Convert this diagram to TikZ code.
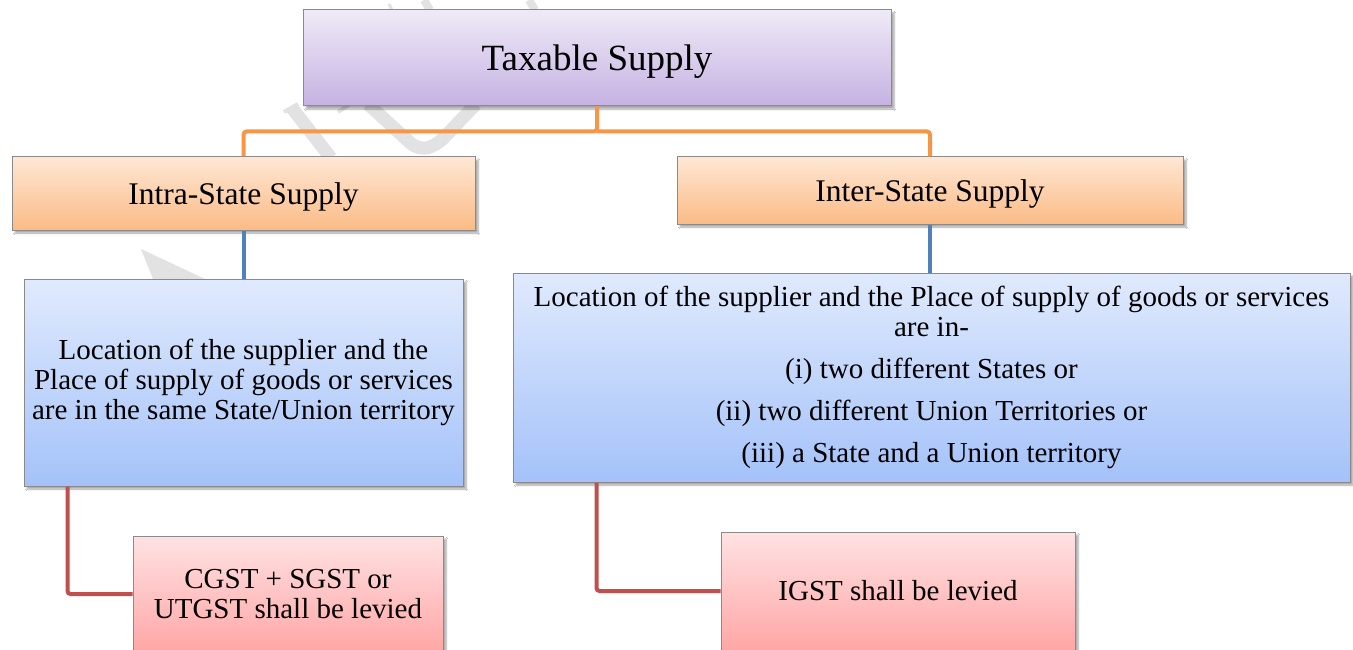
\documentclass[tikz,border=0pt]{standalone}
\usepackage{fontspec}
\setmainfont{Liberation Serif}
\usetikzlibrary{shadows.blur}

\definecolor{purpleTop}{HTML}{EFEAF7}
\definecolor{purpleBot}{HTML}{C5B2E2}
\definecolor{orangeTop}{HTML}{FEE7D4}
\definecolor{orangeBot}{HTML}{FBBB86}
\definecolor{blueTop}{HTML}{E0EAFD}
\definecolor{blueBot}{HTML}{A4C2F9}
\definecolor{redTop}{HTML}{FFE2E3}
\definecolor{redBot}{HTML}{FFA6A6}
\definecolor{boxEdge}{HTML}{8A8A8A}
\definecolor{linkOrange}{HTML}{F79646}
\definecolor{linkBlue}{HTML}{4F81BD}
\definecolor{linkRed}{HTML}{C0504D}
\definecolor{markGray}{HTML}{E2E2E2}

% lower a label visually while keeping its natural box size
\newcommand{\lowered}[2]{\raisebox{-#1}[\height][\depth]{#2}}

\tikzset{
  card/.style={rectangle, draw=boxEdge, line width=1pt, inner sep=0pt,
    align=center, text=black,
    blur shadow={shadow xshift=3pt, shadow yshift=-3pt, shadow blur steps=6, shadow opacity=35}},
  rootbox/.style={card, top color=purpleTop, bottom color=purpleBot,
    font=\fontsize{37}{40}\selectfont},
  kindbox/.style={card, top color=orangeTop, bottom color=orangeBot,
    font=\fontsize{31.5}{34}\selectfont},
  rulebox/.style={card, top color=blueTop, bottom color=blueBot,
    font=\fontsize{29}{30}\selectfont},
  taxbox/.style={card, top color=redTop, bottom color=redBot,
    font=\fontsize{29}{30}\selectfont},
  link/.style={line width=4pt, rounded corners=3pt},
  wmstroke/.style={draw=markGray, line width=13pt}
}

\begin{document}
\begin{tikzpicture}[x=1pt, y=-1pt]
\useasboundingbox[fill=white] (0,0) rectangle (1353,650);

% faint watermark lettering behind the chart
\draw[wmstroke] (292,108) -- (331,158);
\draw[markGray, line width=4pt] (284,112) -- (298,104);
\draw[wmstroke, rounded corners=10pt] (368,104) -- (418,150) -- (436,146) -- (476,104);
\draw[markGray, line width=4pt] (338,112) -- (350,104);
\fill[markGray] (141,249) -- (205,279) -- (153,279) -- cycle;
\draw[markGray, line width=8pt] (424,0) -- (430,10);
\draw[markGray, line width=8pt] (529,0) -- (535,10);
\draw[markGray, line width=3pt] (389,4) -- (392,10);

% boxes
\node[rootbox, minimum width=588, minimum height=96] (root) at (597,58) {\lowered{4pt}{Taxable Supply}};

\node[kindbox, minimum width=463, minimum height=73] (intra) at (243.5,193.5) {\lowered{3pt}{Intra-State Supply}};
\node[kindbox, minimum width=506, minimum height=67] (inter) at (930,190.5) {\lowered{3pt}{Inter-State Supply}};

\node[rulebox, minimum width=439, minimum height=207] (same) at (243.5,382.5)
  {Location of the supplier and the\\Place of supply of goods or services\\are in the same State/Union territory};
\node[rulebox, minimum width=837, minimum height=209] (diff) at (931.5,377.5)
  {Location of the supplier and the Place of supply of goods or services\\are in-\\[12pt]
   (i) two different States or\\[12pt]
   (ii) two different Union Territories or\\[12pt]
   (iii) a State and a Union territory};

\node[taxbox, minimum width=310, minimum height=116] (cgst) at (288,594)
  {CGST + SGST or\\UTGST shall be levied};
\node[taxbox, minimum width=354, minimum height=118] (igst) at (898,591)
  {IGST shall be levied};

% connectors
\draw[link, linkOrange] (root.south) -- ++(0,25) coordinate (split) -| (intra.north);
\draw[link, linkOrange] (split) -| (inter.north);

\draw[link, linkBlue, rounded corners=0pt] (intra.south) -- (same.north);
\draw[link, linkBlue, rounded corners=0pt] (inter.south) -- (inter.south |- diff.north);

\draw[link, linkRed] ([xshift=44pt]same.south west) |- (cgst.west);
\draw[link, linkRed] ([xshift=84pt]diff.south west) |- (igst.west);
\end{tikzpicture}
\end{document}
